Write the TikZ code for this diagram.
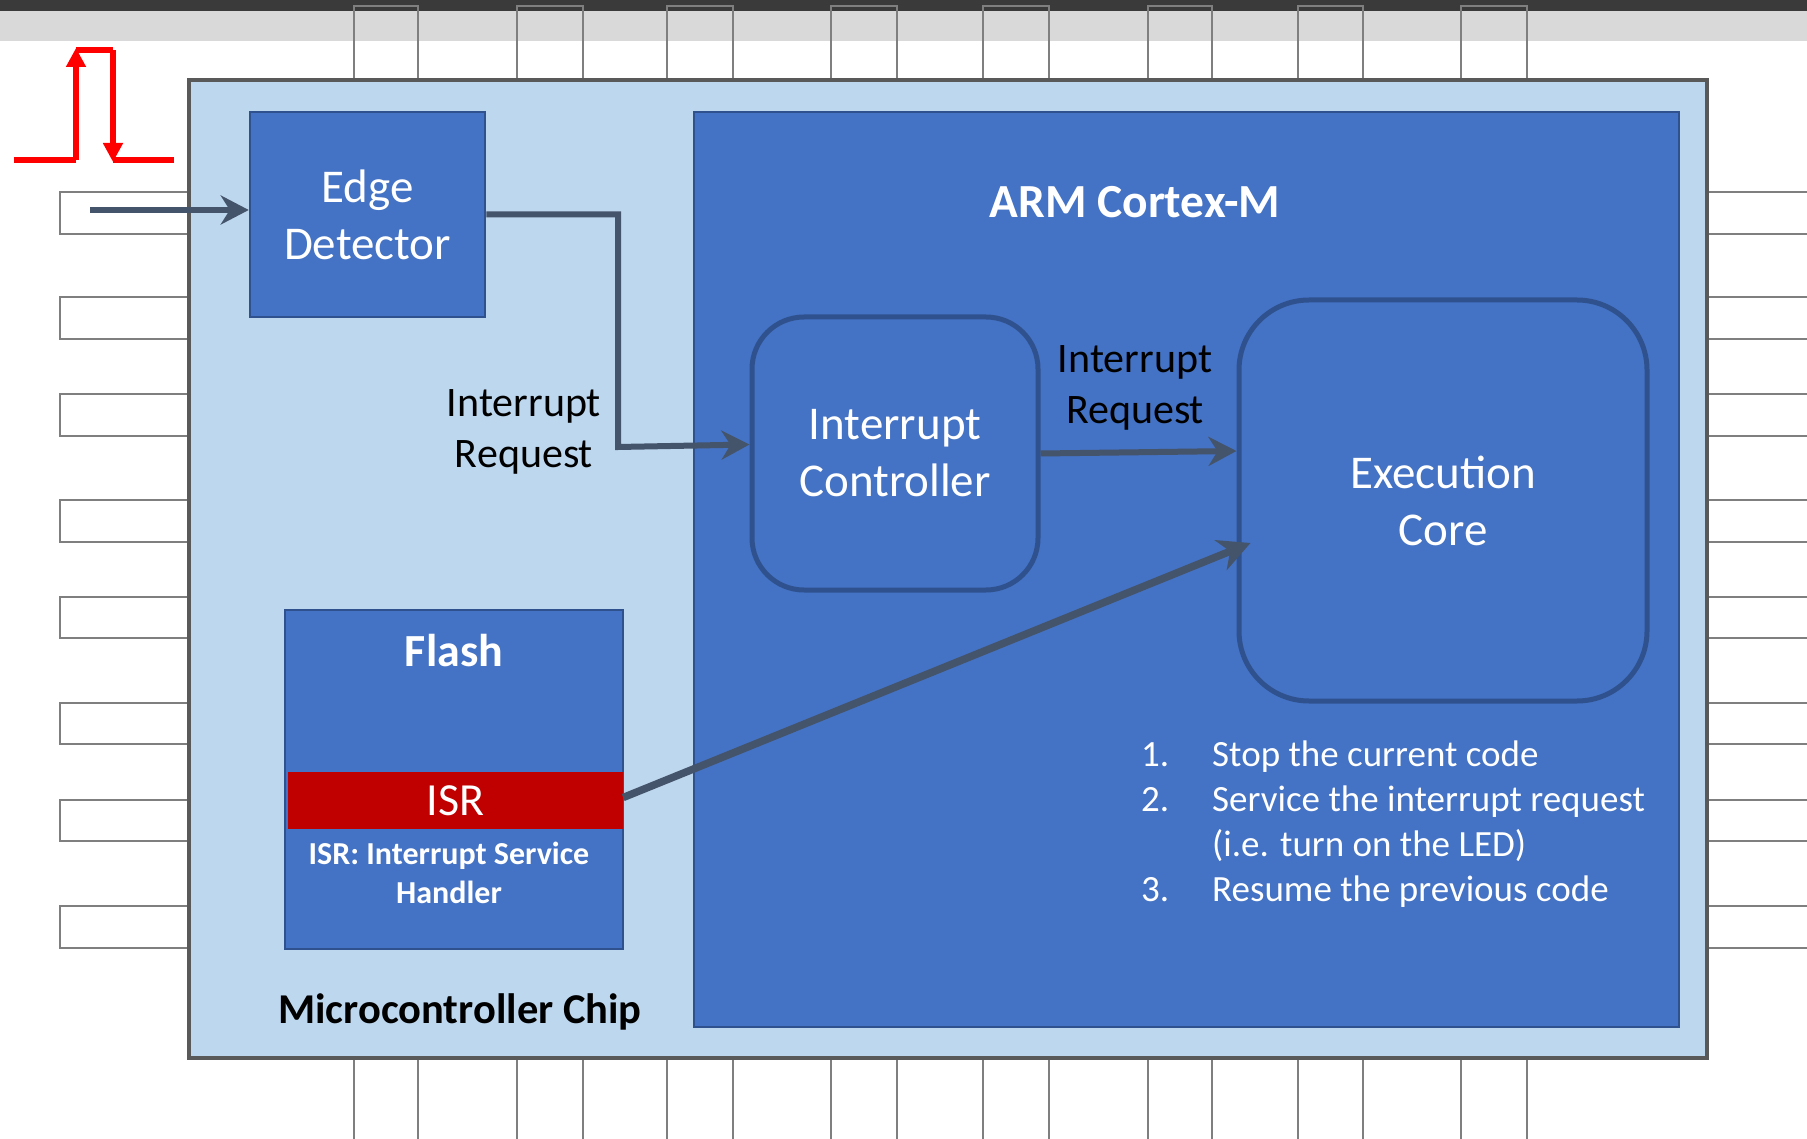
\documentclass[tikz,border=0pt]{standalone}
\usepackage{fontspec}
\setmainfont{Carlito}
\usetikzlibrary{arrows.meta}
\definecolor{chipfill}{HTML}{BDD7EE}
\definecolor{boxblue}{HTML}{4472C4}
\definecolor{boxedge}{HTML}{2F528F}
\definecolor{conncol}{HTML}{44546A}
\definecolor{isrred}{HTML}{C00000}
\definecolor{pulsered}{HTML}{FF0000}
\definecolor{pincol}{HTML}{7F7F7F}
\definecolor{chipedge}{HTML}{595959}
\definecolor{topdark}{HTML}{3A3A3A}
\definecolor{topgray}{HTML}{D9D9D9}
\begin{document}
\begin{tikzpicture}[x=1pt,y=-1pt,
  pin/.style={draw=pincol,line width=2.3pt},
  bluebox/.style={draw=boxedge,fill=boxblue,line width=2.5pt,text=white,align=center,inner sep=0pt},
  roundbox/.style={draw=boxedge,fill=boxblue,line width=5pt,text=white,align=center,inner sep=0pt},
  conn/.style={draw=conncol,line width=6pt,-{Stealth[length=28pt,width=29pt,inset=9pt]}},
  pulse/.style={draw=pulsered,line width=6pt},
  lbl/.style={align=center,inner sep=0pt},
  f47/.style={font=\fontsize{47}{57}\selectfont},
  f42/.style={font=\fontsize{42}{51}\selectfont},
  listtxt/.style={text=white,anchor=base west,inner sep=0pt,font=\fontsize{37}{45}\selectfont}]
\useasboundingbox (0,0) rectangle (1807,1139);
% top bars
\fill[topdark] (0,0) rectangle (1807,11);
\fill[topgray] (0,11) rectangle (1807,41);
% top and bottom pins
\foreach \a/\b in {354/418,517/583,667/733,831/897,983/1049,1148/1212,1298/1363,1461/1527}{
  \draw[pin] (\a,80) -- (\a,6) -- (\b,6) -- (\b,80);
  \draw[pin] (\a,1058) -- (\a,1145);
  \draw[pin] (\b,1058) -- (\b,1145);
}
% side pins
\foreach \a/\b in {192/234,297/339,394/436,500/542,597/638,703/744,800/841,906/948}{
  \draw[pin] (189,\a) -- (60,\a) -- (60,\b) -- (189,\b);
  \draw[pin] (1707,\a) -- (1815,\a);
  \draw[pin] (1707,\b) -- (1815,\b);
}
% chip
\draw[fill=chipfill,draw=chipedge,line width=4pt] (189,80) rectangle (1707,1058);
% pulse
\draw[pulse] (14,160) -- (76,160);
\draw[pulse,-{Triangle[length=19pt,width=19pt]}] (76,160) -- (76,48);
\draw[pulse] (76,50) -- (113,50);
\draw[pulse,-{Triangle[length=19pt,width=19pt]}] (113,50) -- (113,162);
\draw[pulse] (113,160) -- (174,160);
% boxes
\node[bluebox,minimum width=985pt,minimum height=915pt] (arm) at (1186.5,569.5) {};
\node[text=white,font=\bfseries\fontsize{47.5}{57}\selectfont,inner sep=0pt] (armt) at (1135,202) {ARM Cortex-M};
\node[bluebox,f47,minimum width=235pt,minimum height=205pt] (edge) at (367.5,214.5) {Edge\\Detector};
\node[roundbox,f47,rounded corners=52pt,minimum width=286pt,minimum height=273pt] (ic) at (895,453.5) {Interrupt\\Controller};
\node[roundbox,f47,rounded corners=70pt,minimum width=408pt,minimum height=401pt] (exec) at (1443,500.5) {Execution\\Core};
\node[bluebox,minimum width=338pt,minimum height=339pt] (flash) at (454,779.5) {};
\node[text=white,font=\bfseries\fontsize{46}{55}\selectfont,inner sep=0pt] (flasht) at (454,651) {Flash};
\node[fill=isrred,text=white,font=\fontsize{46}{55}\selectfont,minimum width=335pt,minimum height=57pt,inner sep=0pt] (isr) at (455.5,800.5) {ISR};
\node[lbl,text=white,font=\bfseries\fontsize{32}{39}\selectfont] (isrd) at (449,873) {ISR: Interrupt Service\\Handler};
\node[lbl,font=\bfseries\fontsize{42.5}{51}\selectfont] (mcu) at (460,1012) {Microcontroller Chip};
% labels
\node[lbl,f42] (irq1) at (524,432) {Interrupt\\Request};
\node[lbl,f42] (irq2) at (1135,388) {Interrupt\\Request};
% list
\node[listtxt] (n1) at (1141,766) {1.};
\node[listtxt] (t1) at (1212,766) {Stop the current code};
\node[listtxt] (n2) at (1141,811) {2.};
\node[listtxt] (t2) at (1212,811) {Service the interrupt request};
\node[listtxt] (t2b) at (1212,856) {(i.e. turn on the LED)};
\node[listtxt] (n3) at (1141,901) {3.};
\node[listtxt] (t3) at (1212,901) {Resume the previous code};
% connectors
\coordinate (inpt) at (90,210);
\coordinate (bend) at (618,447);
\draw[conn] (inpt) -- ([yshift=4.5pt]edge.west);
\draw[conn] (edge.east) -| (bend) -- ([yshift=9pt]ic.west);
\draw[conn] (ic.east) -- (1239,451 -| exec.west);
\draw[conn,line width=7.5pt,-{Stealth[length=32pt,width=32pt,inset=10pt]}] ([yshift=3pt]isr.east) -- ([xshift=14pt,yshift=-42.5pt]exec.west);
\end{tikzpicture}
\end{document}
